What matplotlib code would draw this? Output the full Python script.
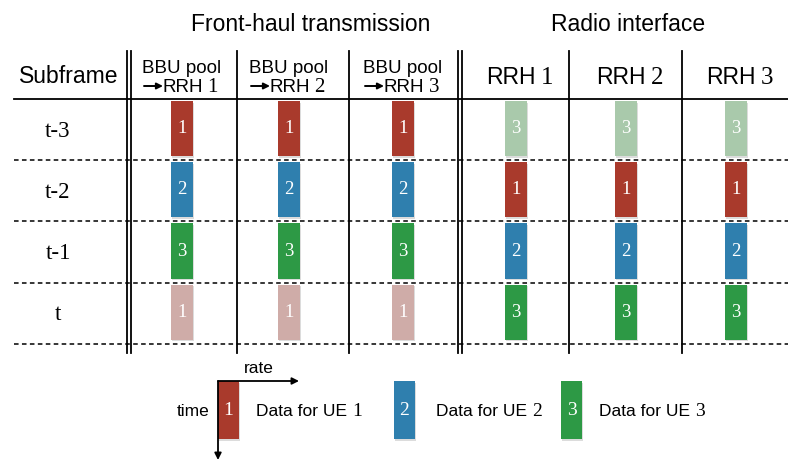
import matplotlib
matplotlib.use("Agg")
import matplotlib.pyplot as plt
from matplotlib.patches import Rectangle

# ---- data ----
subframes = ["t-3", "t-2", "t-1", "t"]
fronthaul_ue = [1, 2, 3, 1]          # UE whose data is sent on front-haul in each subframe
fronthaul_faded = [False, False, False, True]
radio_ue = [3, 1, 2, 3]              # UE whose data is sent over the air in each subframe
radio_faded = [True, False, False, False]
fronthaul_cols = ["1", "2", "3"]     # BBU pool -> RRH n
radio_cols = ["1", "2", "3"]         # RRH n
legend_ues = [1, 2, 3]

colors = {1: "#a93a2c", 2: "#2f7fae", 3: "#2d9945"}
faded = {1: "#cfaca8", 2: "#a9c4d6", 3: "#a9c9ab"}

SANS = "Liberation Sans"
SERIF = "Liberation Serif"

fig = plt.figure(figsize=(7.88, 4.61), dpi=100)
ax = fig.add_axes([0, 0, 1, 1])
ax.set_xlim(0, 788)
ax.set_ylim(461, 0)
ax.axis("off")
renderer = fig.canvas.get_renderer()


def place_after(t, gap, s, **kw):
    # place a second text right after the first one (pixel data coords)
    bb = t.get_window_extent(renderer=renderer)
    y = t.get_position()[1]
    return ax.text(bb.x1 + gap, y, s, **kw)


# ---- grid ----
row_top = 100
row_h = 61.2
line_lw = 1.3
ax.plot([14, 788], [99, 99], color="black", lw=line_lw)
for i in range(len(subframes)):
    y = row_top + (i + 1) * row_h - 1
    ax.plot([14, 788], [y, y], color="black", lw=1.1, ls=(0, (3, 2.2)))
for x in [127, 131, 237, 349, 458, 462, 569, 682]:
    ax.plot([x, x], [51, 353], color="black", lw=line_lw)

# ---- titles ----
ax.text(311, 31, "Front-haul transmission", fontsize=16.5, family=SANS,
        ha="center", va="baseline")
ax.text(628, 31, "Radio interface", fontsize=16.5, family=SANS,
        ha="center", va="baseline")

# ---- headers ----
ax.text(69, 83, "Subframe", fontsize=16.5, family=SANS, ha="center",
        va="baseline")
fh_centers = [182, 289, 403]
rd_centers = [516, 626, 736]
for c, n in zip(fh_centers, fronthaul_cols):
    ax.text(c, 73, "BBU pool", fontsize=13.5, family=SANS, ha="center",
            va="baseline")
    ax.annotate("", xy=(c - 19, 86), xytext=(c - 38, 86),
                arrowprops=dict(arrowstyle="-|>", color="black", lw=1.4,
                                mutation_scale=9, shrinkA=0, shrinkB=0))
    t = ax.text(c - 19, 92, "RRH", fontsize=13.5, family=SANS, ha="left",
                va="baseline")
    place_after(t, 4, n, fontsize=15, family=SERIF, ha="left", va="baseline")
for c, n in zip(rd_centers, radio_cols):
    t = ax.text(c - 30, 84, "RRH", fontsize=16.5, family=SANS, ha="left",
                va="baseline")
    place_after(t, 5, n, fontsize=18, family=SERIF, ha="left", va="baseline")

# ---- row labels and bars ----
bw = 22
bh = row_h - 6
for i, sf in enumerate(subframes):
    y0 = row_top + i * row_h + 1
    ax.text(58, y0 + 30, sf, fontsize=16.5, family=SERIF, ha="center",
            va="center")
    for centers, ues, fade in ((fh_centers, fronthaul_ue, fronthaul_faded),
                               (rd_centers, radio_ue, radio_faded)):
        for c in centers:
            ue = ues[i]
            col = faded[ue] if fade[i] else colors[ue]
            ax.add_patch(Rectangle((c - bw / 2 + 1.5, y0 + 1.5), bw, bh,
                                   color="#bbbbbb", alpha=0.5, lw=0))
            ax.add_patch(Rectangle((c - bw / 2, y0), bw, bh, color=col, lw=0))
            ax.text(c, y0 + bh / 2, str(ue), fontsize=13.5, family=SERIF,
                    color="white", ha="center", va="center")

# ---- legend ----
leg_x = [218, 394, 561]
leg_text_x = [256, 436, 599]
leg_top, leg_h, leg_w = 381, 58, 21
for x, tx, ue in zip(leg_x, leg_text_x, legend_ues):
    ax.add_patch(Rectangle((x + 1.5, leg_top + 1.5), leg_w, leg_h,
                           color="#bbbbbb", alpha=0.5, lw=0))
    ax.add_patch(Rectangle((x, leg_top), leg_w, leg_h, color=colors[ue], lw=0))
    ax.text(x + leg_w / 2, leg_top + leg_h / 2, str(ue), fontsize=14,
            family=SERIF, color="white", ha="center", va="center")
    t = ax.text(tx, leg_top + leg_h / 2 + 6, "Data for UE", fontsize=12.5,
                family=SANS, ha="left", va="baseline")
    place_after(t, 5, str(ue), fontsize=14, family=SERIF, ha="left",
                va="baseline")

# axes arrows
ax.annotate("", xy=(299, 381), xytext=(218, 381),
            arrowprops=dict(arrowstyle="-|>", color="black", lw=1.3,
                            mutation_scale=10, shrinkA=0, shrinkB=0))
ax.annotate("", xy=(218, 460), xytext=(218, 381),
            arrowprops=dict(arrowstyle="-|>", color="black", lw=1.3,
                            mutation_scale=10, shrinkA=0, shrinkB=0))
ax.text(259, 373, "rate", fontsize=12.5, family=SANS, ha="center",
        va="baseline")
ax.text(210, 416, "time", fontsize=12.5, family=SANS, ha="right",
        va="baseline")

fig.savefig("out.png", dpi=100)
